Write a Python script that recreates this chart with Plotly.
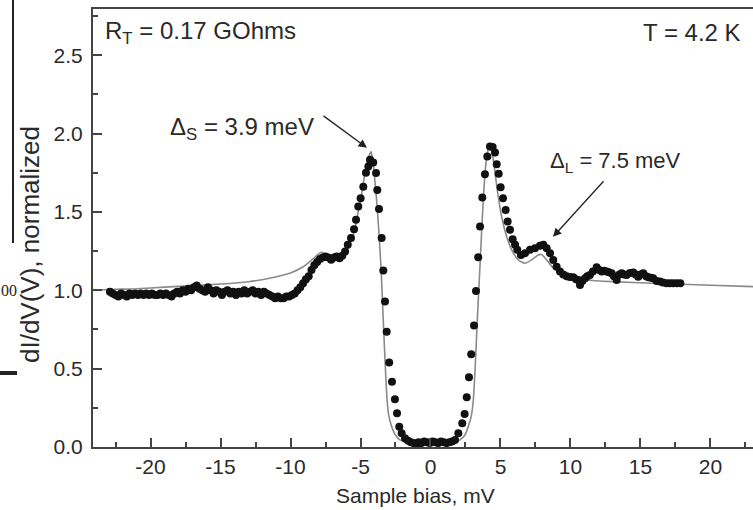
import plotly.graph_objects as go

# Measured dI/dV points (sample bias mV, normalized conductance)
bias_mv = [
    -22.9, -22.7, -22.5, -22.3, -22.1, -21.9, -21.7, -21.5, -21.3, -21.1,
    -20.9, -20.7, -20.5, -20.3, -20.1, -19.9, -19.7, -19.5, -19.3, -19.1,
    -18.9, -18.7, -18.5, -18.3, -18.1, -17.9, -17.7, -17.5, -17.3, -17.1,
    -16.9, -16.7, -16.5, -16.3, -16.1, -15.9, -15.7, -15.5, -15.3, -15.1,
    -14.9, -14.7, -14.5, -14.3, -14.1, -13.9, -13.7, -13.5, -13.3, -13.1,
    -12.9, -12.7, -12.5, -12.3, -12.1, -11.9, -11.7, -11.5, -11.3, -11.1,
    -10.9, -10.7, -10.5, -10.3, -10.1, -9.9, -9.7, -9.5, -9.3, -9.1,
    -8.9, -8.7, -8.5, -8.3, -8.1, -7.9, -7.7, -7.5, -7.3, -7.1,
    -6.9, -6.7, -6.5, -6.3, -6.1, -5.91, -5.68, -5.46, -5.32, -5.16,
    -4.99, -4.8, -4.61, -4.44, -4.32, -4.09, -3.89, -3.8, -3.68, -3.49,
    -3.37, -3.25, -3.13, -2.95, -2.75, -2.54, -2.39, -2.23, -2.06, -1.82,
    -1.6, -1.4, -1.2, -1.04, -0.85, -0.65, -0.45, -0.25, -0.05, 0.15,
    0.35, 0.55, 0.75, 0.95, 1.15, 1.35, 1.55, 1.75, 1.99, 2.27,
    2.44, 2.59, 2.75, 2.91, 3.11, 3.25, 3.41, 3.54, 3.7, 3.89,
    4.06, 4.25, 4.44, 4.61, 4.73, 4.87, 5.01, 5.18, 5.37, 5.51,
    5.68, 5.87, 6.04, 6.2, 6.46, 6.75, 7.11, 7.46, 7.82, 8.06,
    8.3, 8.54, 8.77, 9.01, 9.25, 9.49, 9.73, 9.95, 10.2, 10.4,
    10.56, 10.68, 10.85, 11.04, 11.2, 11.39, 11.6, 11.87, 12.05, 12.23,
    12.4, 12.59, 12.75, 12.94, 13.1, 13.3, 13.5, 13.66, 13.85, 14.01,
    14.25, 14.49, 14.65, 14.84, 15.0, 15.2, 15.4, 15.56, 15.75, 15.91,
    16.15, 16.39, 16.6, 16.87, 17.1, 17.34, 17.6, 17.85,
]
didv_measured = [
    0.99, 0.98, 0.97, 0.96, 0.98, 0.97, 0.96, 0.98, 0.97, 0.98,
    0.97, 0.98, 0.97, 0.98, 0.97, 0.98, 0.97, 0.97, 0.98, 0.97,
    0.98, 0.97, 0.96, 0.98, 0.99, 0.98, 1.00, 0.99, 1.01, 1.00,
    1.02, 1.03, 1.01, 1.00, 0.99, 1.02, 1.00, 0.98, 1.00, 0.99,
    0.97, 0.99, 1.00, 0.98, 0.99, 0.97, 0.99, 0.98, 1.00, 0.98,
    0.99, 1.00, 0.98, 0.99, 0.97, 0.99, 0.98, 0.97, 0.96, 0.95,
    0.96, 0.95, 0.95, 0.96, 0.96, 0.97, 0.98, 1.00, 1.02, 1.045,
    1.07, 1.09, 1.13, 1.16, 1.18, 1.20, 1.21, 1.215, 1.21, 1.195,
    1.21, 1.215, 1.205, 1.22, 1.247, 1.29, 1.333, 1.39, 1.45, 1.534,
    1.588, 1.66, 1.75, 1.79, 1.833, 1.815, 1.748, 1.64, 1.518, 1.333,
    1.126, 0.928, 0.736, 0.54, 0.417, 0.305, 0.215, 0.13, 0.087, 0.056,
    0.04, 0.03, 0.025, 0.002, 0.03, 0.025, 0.035, 0.03, 0.025, 0.035,
    0.03, 0.025, 0.035, 0.03, 0.025, 0.03, 0.035, 0.045, 0.087, 0.151,
    0.21, 0.317, 0.445, 0.592, 0.775, 0.996, 1.211, 1.407, 1.592, 1.741,
    1.854, 1.918, 1.914, 1.879, 1.805, 1.743, 1.658, 1.588, 1.513, 1.439,
    1.386, 1.326, 1.29, 1.258, 1.226, 1.237, 1.258, 1.269, 1.284, 1.29,
    1.269, 1.237, 1.194, 1.151, 1.12, 1.10, 1.09, 1.085, 1.083, 1.07,
    1.066, 1.034, 1.06, 1.077, 1.09, 1.098, 1.12, 1.147, 1.13, 1.12,
    1.125, 1.12, 1.115, 1.109, 1.09, 1.066, 1.10, 1.109, 1.10, 1.098,
    1.11, 1.113, 1.10, 1.087, 1.10, 1.109, 1.09, 1.083, 1.08, 1.077,
    1.06, 1.056, 1.05, 1.045, 1.045, 1.045, 1.045, 1.045,
]

# Theoretical (fit) curve
fit_bias_mv = [
    -24.0, -23.0, -21.0, -19.0, -17.0, -15.0, -13.0, -11.5, -10.0, -9.1,
    -8.4, -7.8, -7.3, -6.95, -6.5, -6.0, -5.63, -5.39, -5.16, -4.91,
    -4.68, -4.44, -4.25, -4.1, -3.95, -3.8, -3.65, -3.5, -3.4, -3.3,
    -3.2, -3.1, -2.98, -2.77, -2.5, -2.18, -1.6, -0.8, 0.0, 0.8,
    1.6, 2.1, 2.45, 2.7, 2.92, 3.06, 3.16, 3.26, 3.36, 3.46,
    3.56, 3.68, 3.8, 3.95, 4.1, 4.22, 4.32, 4.49, 4.77, 5.08,
    5.44, 5.8, 6.27, 6.75, 7.23, 7.7, 7.94, 8.3, 8.77, 9.49,
    10.3, 11.16, 13.0, 15.9, 19.0, 23.5,
]
didv_fit = [
    1.00, 1.005, 1.01, 1.02, 1.03, 1.04, 1.055, 1.077, 1.11, 1.15,
    1.20, 1.243, 1.215, 1.195, 1.21, 1.258, 1.322, 1.397, 1.503, 1.62,
    1.748, 1.844, 1.885, 1.82, 1.68, 1.52, 1.32, 1.08, 0.86, 0.66,
    0.46, 0.30, 0.20, 0.13, 0.075, 0.045, 0.025, 0.018, 0.016, 0.018,
    0.025, 0.045, 0.075, 0.13, 0.20, 0.30, 0.45, 0.64, 0.84, 1.02,
    1.2, 1.42, 1.62, 1.80, 1.89, 1.91, 1.905, 1.833, 1.641, 1.471,
    1.343, 1.258, 1.194, 1.173, 1.194, 1.226, 1.228, 1.194, 1.141, 1.109,
    1.08, 1.066, 1.055, 1.045, 1.035, 1.022,
]

x_ticks = [-20, -15, -10, -5, 0, 5, 10, 15, 20]
y_ticks = [0.0, 0.5, 1.0, 1.5, 2.0, 2.5]

FONT = "Liberation Sans, Arial, sans-serif"
AX = "#444444"
TXT = "#2a2a2a"

# plot-area geometry in pixels (used only to place the axis titles)
L, T, W, H = 93, 9, 660, 438

fig = go.Figure()
fig.add_trace(go.Scatter(
    x=fit_bias_mv, y=didv_fit, mode="lines",
    line=dict(color="#8a8a8a", width=1.6, shape="spline", smoothing=0.6),
    hoverinfo="skip", showlegend=False,
))
fig.add_trace(go.Scatter(
    x=bias_mv, y=didv_measured, mode="markers",
    marker=dict(color="#111111", size=8, line=dict(width=0)),
    showlegend=False,
))

fig.update_layout(
    width=753, height=510,
    margin=dict(l=L, r=0, t=T, b=510 - T - H),
    paper_bgcolor="white", plot_bgcolor="white",
    font=dict(family=FONT, color=TXT, size=21),
    showlegend=False,
    xaxis=dict(
        range=[-24.11, 23.04], tickvals=x_ticks,
        ticktext=[str(v) for v in x_ticks],
        ticks="inside", ticklen=9, tickwidth=1.5, tickcolor=AX,
        minor=dict(dtick=2.5, tick0=0, ticks="inside", ticklen=5, tickwidth=1.5, tickcolor=AX),
        showline=True, linecolor=AX, linewidth=2, mirror=True,
        showgrid=False, zeroline=False,
        tickfont=dict(size=21, family=FONT, color=TXT),
    ),
    yaxis=dict(
        range=[0, 2.795], tickvals=y_ticks,
        ticktext=["%.1f" % v for v in y_ticks],
        ticks="inside", ticklen=9, tickwidth=1.5, tickcolor=AX,
        minor=dict(dtick=0.25, tick0=0, ticks="inside", ticklen=5, tickwidth=1.5, tickcolor=AX),
        showline=True, linecolor=AX, linewidth=2, mirror=False,
        showgrid=False, zeroline=False,
        ticklabelstandoff=4,
        tickfont=dict(size=21, family=FONT, color=TXT),
    ),
)

# axis titles
fig.add_annotation(x=(415 - L) / W, y=(T + H - 495) / H, xref="paper", yref="paper",
                   text="Sample bias, mV", showarrow=False, xanchor="center", yanchor="middle",
                   font=dict(size=21, family=FONT, color=TXT))
fig.add_annotation(x=(30 - L) / W, y=(T + H - 245) / H, xref="paper", yref="paper",
                   text="dI/dV(V), normalized", showarrow=False, textangle=-90,
                   xanchor="center", yanchor="middle",
                   font=dict(size=26, family=FONT, color=TXT))

ann_font = dict(family=FONT, size=24, color=TXT)
fig.add_annotation(x=-23.39, y=2.644, xref="x", yref="y", xanchor="left", yanchor="middle",
                   text="R<sub>T</sub> = 0.17 GOhms", showarrow=False, font=ann_font)
fig.add_annotation(x=22.3, y=2.644, xref="x", yref="y", xanchor="right", yanchor="middle",
                   text="T = 4.2 K", showarrow=False, font=ann_font)
fig.add_annotation(x=-18.75, y=2.03, xref="x", yref="y", xanchor="left", yanchor="middle",
                   text="Δ<sub>S</sub> = 3.9 meV", showarrow=False, font=ann_font)
fig.add_annotation(x=8.39, y=1.82, xref="x", yref="y", xanchor="left", yanchor="middle",
                   text="Δ<sub>L</sub> = 7.5 meV", showarrow=False, font=dict(family=FONT, size=22, color=TXT))
# arrows
fig.add_annotation(x=-4.54, y=1.909, ax=-7.75, ay=2.12, xref="x", yref="y", axref="x", ayref="y",
                   text="", showarrow=True, arrowhead=2, arrowsize=1.3, arrowwidth=1.3, arrowcolor="#222222")
fig.add_annotation(x=8.75, y=1.341, ax=12.46, ay=1.705, xref="x", yref="y", axref="x", ayref="y",
                   text="", showarrow=True, arrowhead=2, arrowsize=1.3, arrowwidth=1.3, arrowcolor="#222222")

# stray fragments from neighbouring figure at the left edge
fig.add_shape(type="line", xref="paper", yref="paper",
              x0=(13 - L) / W, x1=(13 - L) / W, y0=(T + H - 243) / H, y1=1.03,
              line=dict(color="#222222", width=2))
fig.add_shape(type="line", xref="paper", yref="paper",
              x0=(0 - L) / W, x1=(17 - L) / W, y0=(T + H - 373) / H, y1=(T + H - 373) / H,
              line=dict(color="#222222", width=4))
fig.add_annotation(x=(0 - L) / W, y=(T + H - 290) / H, xref="paper", yref="paper",
                   text="00", showarrow=False, xanchor="left", yanchor="middle", borderpad=0,
                   font=dict(family="Liberation Serif, serif", size=16, color="#222222"))

fig.write_html("out.html")
